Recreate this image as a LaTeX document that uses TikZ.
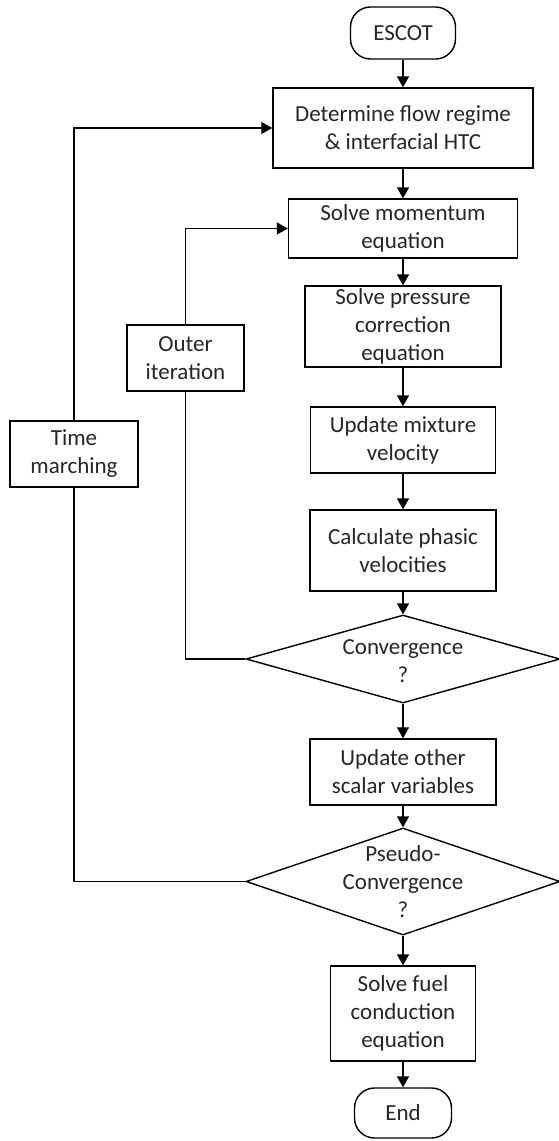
\documentclass[tikz,border=0pt]{standalone}
\usepackage{fontspec}
\setmainfont{Carlito}
\usetikzlibrary{shapes.geometric,arrows.meta}
\begin{document}
\begin{tikzpicture}[x=1pt,y=-1pt,
  every node/.style={font=\fontsize{23}{28}\selectfont, text=black!85},
  box/.style={draw=black, line width=1.4pt, rectangle, align=center, inner sep=0pt},
  term/.style={draw=black, line width=1.4pt, rectangle, rounded corners=20pt, align=center, inner sep=0pt},
  dia/.style={draw=black, line width=1.4pt, diamond, inner sep=0pt},
  conn/.style={line width=1.4pt, draw=black},
  arr/.style={conn, -{Triangle[length=11pt,width=12pt]}}
]
\useasboundingbox (0,0) rectangle (558,1141);
\node[term, minimum width=105pt, minimum height=52pt] (escot) at (403,33) {ESCOT};
\node[box, minimum width=260pt, minimum height=80pt] (b1) at (403,128) {Determine flow regime\\\& interfacial HTC};
\node[box, minimum width=229pt, minimum height=59pt] (b2) at (403,228.5) {Solve momentum\\equation};
\node[box, minimum width=196pt, minimum height=81pt] (b3) at (403,326.5) {Solve pressure\\correction\\equation};
\node[box, minimum width=185pt, minimum height=66pt] (b4) at (403,440) {Update mixture\\velocity};
\node[box, minimum width=186pt, minimum height=81pt] (b5) at (403,550.5) {Calculate phasic\\velocities};
\node[dia, minimum width=314pt, minimum height=88pt] (d1) at (403,659) {};
\node[align=center, inner sep=0pt] (d1t) at (403,661) {Convergence\\?};
\node[box, minimum width=186pt, minimum height=66pt] (b6) at (403,772) {Update other\\scalar variables};
\node[dia, minimum width=314pt, minimum height=107pt] (d2) at (403,881.5) {};
\node[align=center, inner sep=0pt] (d2t) at (403,882) {Pseudo-\\Convergence\\?};
\node[box, minimum width=145pt, minimum height=95pt] (b7) at (403,1013.5) {Solve fuel\\conduction\\equation};
\node[term, minimum width=97pt, minimum height=50pt] (end) at (403,1113) {End};
\node[box, minimum width=117pt, minimum height=66pt] (outer) at (185.5,358) {Outer\\iteration};
\node[box, minimum width=128pt, minimum height=66pt] (time) at (74,454) {Time\\marching};

\draw[arr] (escot) -- (b1);
\draw[arr] (b1) -- (b2);
\draw[arr] (b2) -- (b3);
\draw[arr] (b3) -- (b4);
\draw[arr] (b4) -- (b5);
\draw[arr] (b5.south) -- (d1.north);
\draw[arr] (d1.south) -- (b6.north);
\draw[arr] (b6.south) -- (d2.north);
\draw[arr] (d2.south) -- (b7.north);
\draw[arr] (b7) -- (end);
\draw[conn] (d1.west) -| (outer.south);
\draw[arr] (outer.north) |- (b2.west);
\draw[conn] (d2.west) -| (time.south);
\draw[arr] (time.north) |- (b1.west);
\end{tikzpicture}
\end{document}
